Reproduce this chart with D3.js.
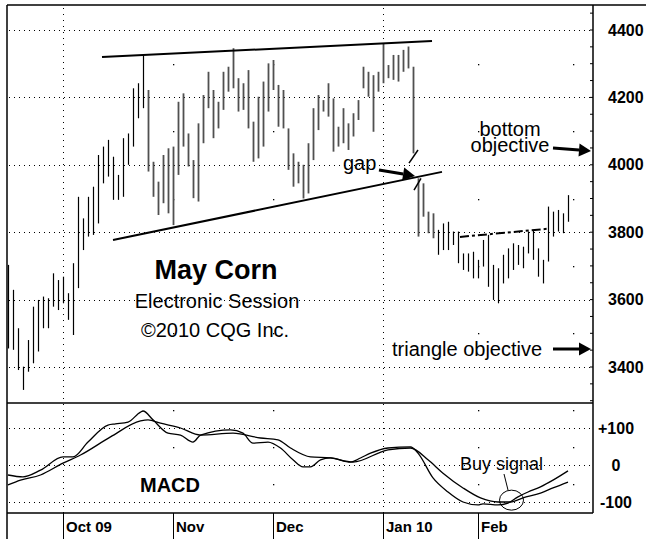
<!DOCTYPE html>
<html>
<head>
<meta charset="utf-8">
<script src="https://cdn.jsdelivr.net/npm/d3@7"></script>
<style>
  body { margin: 0; background: #fff; }
  svg { display: block; font-family: Arial, "Liberation Sans", Helvetica, sans-serif; }
  .frame { stroke: #000; stroke-width: 1.5; fill: none; }
  .grid { stroke: #000; stroke-width: 1; stroke-dasharray: 1,4; }
  .vgrid { stroke: #000; stroke-width: 1; stroke-dasharray: 1,5; }
  .trend { stroke: #000; stroke-width: 2; fill: none; }
  .macd { stroke: #000; stroke-width: 1.3; fill: none; }
  .lbl { font-weight: bold; font-size: 16px; fill: #000; }
  .note { font-size: 20px; fill: #000; }
</style>
</head>
<body>
<div id="chart"></div>
<script>
// daily bars, Sep 16 2009 .. Feb 26 2010 (one per trading day)
const highs = [3703,3629,3515,3401,3480,3579,3599,3609,3604,3678,3658,3668,3619,3708,3905,3841,3905,3935,4029,4054,
  4074,4024,3970,4079,4093,4227,4242,4326,4222,4009,3950,4029,4049,4054,4187,4212,4093,4014,4123,4207,
  4276,4222,4187,4276,4291,4346,4257,4242,4281,4128,4202,4247,4301,4311,4237,4222,4108,4034,4009,4000,
  4064,4168,4207,4192,4242,4197,4113,4168,4123,4153,4192,4291,4276,4266,4276,4360,4296,4326,4326,4341,
  4351,4291,3960,3945,3861,3856,3807,3826,3831,3802,3802,3737,3737,3742,3718,3777,3792,3703,3693,3733,
  3752,3767,3762,3757,3802,3807,3752,3718,3876,3861,3866,3856,3910];
const lows = [3455,3451,3391,3332,3386,3411,3446,3515,3515,3579,3569,3589,3540,3495,3634,3747,3787,3792,3826,3945,
  3965,3896,3896,3905,4000,4054,4138,4168,3980,3905,3851,3886,3856,3821,3970,4054,3995,3901,3891,4064,
  4168,4079,4108,4163,4217,4227,4158,4163,4108,4009,4019,4054,4158,4222,4113,4108,3985,3935,3945,3900,
  3915,4014,4103,4158,4143,4039,4054,4064,4044,4084,4133,4227,4202,4098,4217,4242,4257,4252,4247,4276,
  4286,4034,3787,3846,3797,3782,3733,3747,3747,3762,3708,3688,3683,3663,3663,3698,3638,3599,3589,3648,
  3663,3688,3703,3693,3737,3718,3668,3648,3713,3787,3802,3797,3831];

// MACD and its signal line, read as [bar index, value]
const macdLine = [[0,-27],[3,-32],[6.5,-14],[11,22],[13,22],[16,62],[20,108],[21.5,111],[24,116],[26.5,143],
  [27,146],[29,122],[32,86],[34.5,81],[37,62],[38.5,81],[44.5,95],[47,86],[49,59],[52,62],[54.5,46],[57,14],
  [59,-5],[60.5,-5],[62.5,14],[64.5,19],[68.5,8],[70.5,19],[72.5,32],[76,46],[80.5,49],[82,32],[85,-35],
  [88,-73],[91,-100],[94,-108],[95,-105],[98,-108],[100,-103],[102,-86],[104,-73],[106.5,-59],[109,-41],[112,-16]];
const signalLine = [[0,-54],[2.5,-41],[6.5,-27],[11,5],[14.5,27],[20.5,76],[26.5,119],[28,122],[30.5,113],
  [34.5,100],[38.5,81],[45,86],[50.5,73],[54,68],[56.5,46],[60.5,22],[64.5,19],[69,8],[76,41],[80.5,46],
  [84,14],[87,-22],[91,-62],[94.5,-89],[98,-100],[100.5,-100],[103,-89],[106.5,-76],[109,-62],[112,-46]];

const monthIdx = [11, 33, 53, 75, 94, 113];
const monthLabels = ['Oct 09', 'Nov', 'Dec', 'Jan 10', 'Feb', ''];
const quarterStart = [true, false, false, true, false, false];

const priceTicks = [3400, 3600, 3800, 4000, 4200, 4400];
const priceHalf = [3500, 3700, 3900, 4100, 4300];
const macdTicks = [100, 0, -100];
const macdTickLabels = ['+100', '0', '-100'];
const macdHalf = [150, 50, -50];

// trend lines as [bar index, price]
const upperTrend = [[18.8, 4320], [84.8, 4367]];
const lowerTrend = [[21, 3777], [86.8, 3979]];
const neckline = [[90.4, 3786], [107.8, 3810]];

const W = 646, H = 539;
const L = 7, R = 593, T = 5, priceB = 403, macdB = 513;

const svg = d3.select('#chart').append('svg')
  .attr('width', W)
  .attr('height', H);

const x = d3.scaleLinear().domain([0, 112]).range([8, 568]);
const y = d3.scaleLinear().domain([3400, 4400]).range([367, 30]);
const ym = d3.scaleLinear().domain([-100, 100]).range([502, 428]);

// horizontal grid
svg.append('g').selectAll('line')
  .data(priceTicks)
  .enter().append('line')
  .attr('class', 'grid')
  .attr('x1', L + 2).attr('x2', R - 2)
  .attr('y1', d => Math.round(y(d)) + 0.5)
  .attr('y2', d => Math.round(y(d)) + 0.5);

svg.append('g').selectAll('line')
  .data(macdTicks)
  .enter().append('line')
  .attr('class', 'grid')
  .attr('x1', L + 2).attr('x2', R - 2)
  .attr('y1', d => Math.round(ym(d)) + 0.5)
  .attr('y2', d => Math.round(ym(d)) + 0.5);

// vertical grid: full dotted lines on quarter starts, single dots elsewhere
monthIdx.forEach((m, i) => {
  const mx = Math.round(x(m)) + 0.5;
  if (quarterStart[i]) {
    svg.append('line').attr('class', 'vgrid')
      .attr('x1', mx).attr('x2', mx).attr('y1', T + 3).attr('y2', macdB);
  } else {
    svg.append('g').selectAll('rect')
      .data(priceHalf.map(y).concat(macdHalf.map(ym)))
      .enter().append('rect')
      .attr('x', mx - 0.5).attr('y', d => Math.round(d))
      .attr('width', 1.3).attr('height', 1.3)
      .attr('fill', '#000');
  }
});

// price bars
const bars = svg.append('g');
highs.forEach((h, i) => {
  const grey = i >= 28 && i <= 85;
  bars.append('line')
    .attr('x1', Math.round(x(i)) + 0.5)
    .attr('x2', Math.round(x(i)) + 0.5)
    .attr('y1', y(h))
    .attr('y2', y(lows[i]))
    .attr('stroke', grey ? '#505050' : '#000')
    .attr('stroke-width', grey ? 1.8 : 1.2);
});

// trend lines
const tl = d3.line().x(d => x(d[0])).y(d => y(d[1]));
svg.append('path').attr('class', 'trend').attr('d', tl(upperTrend));
svg.append('path').attr('class', 'trend').attr('d', tl(lowerTrend));
svg.append('path').attr('class', 'trend')
  .attr('stroke-dasharray', '9,3,3,3')
  .attr('d', tl(neckline));

// gap break marks
[[[80.2, 4005], [82, 4044]], [[81.2, 3925], [82.6, 3960]]].forEach(s => {
  svg.append('path').attr('d', tl(s)).attr('stroke', '#000').attr('stroke-width', 1.5);
});

// arrows
function arrow(x1, y1, x2, y2) {
  const a = Math.atan2(y2 - y1, x2 - x1);
  const len = 12, half = 6.5;
  const bx = x2 - len * Math.cos(a), by = y2 - len * Math.sin(a);
  svg.append('line')
    .attr('x1', x1).attr('y1', y1).attr('x2', bx).attr('y2', by)
    .attr('stroke', '#000').attr('stroke-width', 3);
  svg.append('path')
    .attr('d', `M${x2},${y2}L${bx - half * Math.sin(a)},${by + half * Math.cos(a)}L${bx + half * Math.sin(a)},${by - half * Math.cos(a)}Z`)
    .attr('fill', '#000');
}
arrow(379, 170, 415, 176);
arrow(553, 148, 591, 151);
arrow(553, 349, 591, 349);

// texts
svg.append('text').attr('x', 216).attr('y', 279)
  .attr('text-anchor', 'middle')
  .style('font-weight', 'bold').style('font-size', '27px')
  .text('May Corn');
svg.append('text').attr('class', 'note').attr('x', 217).attr('y', 308)
  .attr('text-anchor', 'middle').text('Electronic Session');
svg.append('text').attr('class', 'note').attr('x', 215).attr('y', 337)
  .attr('text-anchor', 'middle').text('©2010 CQG Inc.');
svg.append('text').attr('class', 'note').attr('x', 343).attr('y', 170).text('gap');
svg.append('text').attr('class', 'note').attr('x', 510).attr('y', 136)
  .attr('text-anchor', 'middle').text('bottom');
svg.append('text').attr('class', 'note').attr('x', 510).attr('y', 152)
  .attr('text-anchor', 'middle').text('objective');
svg.append('text').attr('class', 'note').attr('x', 392).attr('y', 356).text('triangle objective');

// MACD
const ml = d3.line().x(d => x(d[0])).y(d => ym(d[1])).curve(d3.curveMonotoneX);
svg.append('path').attr('class', 'macd').attr('d', ml(signalLine));
svg.append('path').attr('class', 'macd').attr('d', ml(macdLine));

svg.append('text').attr('x', 140).attr('y', 492)
  .style('font-weight', 'bold').style('font-size', '20px').text('MACD');
svg.append('text').attr('x', 460).attr('y', 470)
  .style('font-size', '18px').text('Buy signal');
svg.append('line')
  .attr('x1', 504).attr('y1', 474).attr('x2', 508).attr('y2', 490)
  .attr('stroke', '#000').attr('stroke-width', 1);
svg.append('ellipse')
  .attr('cx', x(100.7)).attr('cy', ym(-95)).attr('rx', 12).attr('ry', 10)
  .attr('fill', 'none').attr('stroke', '#000').attr('stroke-width', 1);

// right axis
const yAxis = d3.axisRight(y).tickValues(priceTicks).tickSize(0).tickPadding(15)
  .tickFormat(d3.format('d'));
svg.append('g')
  .attr('class', 'axis axis--y')
  .attr('transform', `translate(${R}, 0)`)
  .call(yAxis)
  .call(g => g.select('.domain').remove())
  .selectAll('text').attr('class', 'lbl');

svg.append('g').selectAll('line')
  .data(d3.range(3300, 4500, 50))
  .enter().append('line')
  .attr('x1', R - 3).attr('x2', R)
  .attr('y1', d => y(d)).attr('y2', d => y(d))
  .attr('stroke', '#000');

const mAxis = d3.axisRight(ym).tickValues(macdTicks).tickSize(0)
  .tickFormat((d, i) => macdTickLabels[i]);
svg.append('g')
  .attr('transform', `translate(616, 0)`)
  .call(mAxis)
  .call(g => g.select('.domain').remove())
  .selectAll('text').attr('class', 'lbl').attr('x', 0).attr('text-anchor', 'middle');

// date axis
svg.append('g').selectAll('line')
  .data(monthIdx.slice(0, 5))
  .enter().append('line')
  .attr('x1', d => Math.round(x(d)) + 0.5).attr('x2', d => Math.round(x(d)) + 0.5)
  .attr('y1', macdB).attr('y2', H)
  .attr('stroke', '#000').attr('stroke-width', 1);
svg.append('g').selectAll('text')
  .data(monthIdx.slice(0, 5))
  .enter().append('text')
  .attr('class', 'lbl')
  .attr('x', d => x(d) + 3)
  .attr('y', 532)
  .style('font-size', '15px')
  .text((d, i) => monthLabels[i]);

// frame
svg.append('line').attr('class', 'frame').attr('x1', L).attr('x2', W).attr('y1', T).attr('y2', T);
svg.append('line').attr('class', 'frame').attr('x1', L).attr('x2', L).attr('y1', T).attr('y2', H);
svg.append('line').attr('class', 'frame').attr('x1', R).attr('x2', R).attr('y1', T).attr('y2', macdB);
svg.append('line').attr('class', 'frame').attr('x1', L).attr('x2', R).attr('y1', priceB).attr('y2', priceB);
svg.append('line').attr('class', 'frame').attr('x1', L).attr('x2', R).attr('y1', macdB).attr('y2', macdB);
</script>
</body>
</html>
